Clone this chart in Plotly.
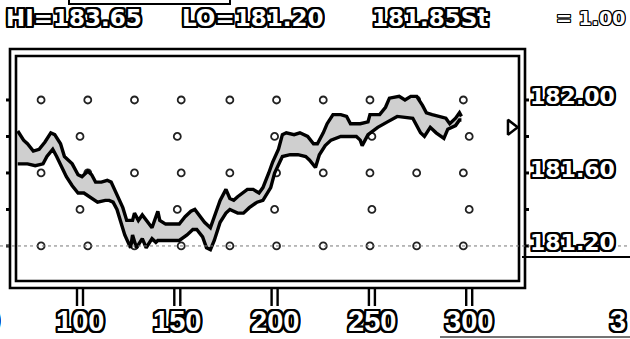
import plotly.graph_objects as go

# ---------------- data ----------------
# upper envelope of the price band (bar number, price)
upper_x = [68, 71, 73, 76, 79, 82, 85, 87, 90, 92,
           96, 99, 101, 104, 106, 108, 111, 114, 116, 119,
           122, 124, 127, 128, 130, 132, 134, 137, 140, 141,
           144, 151, 154, 157, 159, 162, 164, 167, 169, 172,
           175, 177, 179, 181, 186, 189, 192, 194, 197, 199,
           202, 204, 206, 210, 213, 217, 220, 222, 225, 227,
           230, 234, 237, 239, 244, 248, 249, 254, 257, 259,
           264, 267, 270, 273, 276, 278, 281, 285, 288, 290,
           293, 295, 296]
upper_y = [181.83, 181.78, 181.76, 181.72, 181.73, 181.77, 181.82, 181.81, 181.76, 181.69,
           181.65, 181.59, 181.58, 181.61, 181.59, 181.55, 181.55, 181.56, 181.55, 181.48,
           181.41, 181.34, 181.34, 181.38, 181.34, 181.37, 181.34, 181.30, 181.39, 181.34,
           181.32, 181.32, 181.36, 181.39, 181.40, 181.36, 181.33, 181.30, 181.36, 181.45,
           181.51, 181.46, 181.45, 181.47, 181.51, 181.51, 181.49, 181.52, 181.60, 181.66,
           181.73, 181.81, 181.82, 181.81, 181.82, 181.80, 181.76, 181.76, 181.82, 181.87,
           181.92, 181.92, 181.91, 181.87, 181.87, 181.88, 181.92, 181.92, 181.96, 182.01,
           182.02, 182.00, 182.02, 182.02, 181.97, 181.93, 181.92, 181.91, 181.90, 181.87,
           181.90, 181.93, 181.91]

# lower envelope of the price band
lower_x = [68, 73, 77, 81, 83, 86, 88, 91, 93, 96,
           99, 102, 105, 109, 113, 115, 117, 119, 121, 123,
           126, 127, 129, 132, 134, 137, 139, 140, 151, 155,
           158, 160, 163, 165, 167, 169, 172, 175, 177, 181,
           184, 187, 191, 194, 198, 200, 204, 208, 212, 216,
           218, 221, 223, 226, 229, 234, 239, 242, 244, 245,
           248, 253, 258, 263, 271, 275, 277, 280, 283, 287,
           289, 293, 295, 296]
lower_y = [181.65, 181.65, 181.64, 181.65, 181.69, 181.73, 181.69, 181.62, 181.58, 181.53,
           181.49, 181.49, 181.47, 181.44, 181.45, 181.45, 181.44, 181.40, 181.33, 181.26,
           181.19, 181.26, 181.19, 181.24, 181.19, 181.24, 181.22, 181.23, 181.23, 181.26,
           181.29, 181.29, 181.25, 181.19, 181.18, 181.23, 181.33, 181.38, 181.40, 181.38,
           181.38, 181.41, 181.44, 181.45, 181.52, 181.60, 181.69, 181.70, 181.70, 181.69,
           181.67, 181.63, 181.70, 181.75, 181.78, 181.80, 181.80, 181.80, 181.78, 181.75,
           181.81, 181.85, 181.88, 181.91, 181.90, 181.82, 181.80, 181.85, 181.82, 181.79,
           181.84, 181.86, 181.89, 181.89]

x_ticks = [50, 100, 150, 200, 250, 300]
x_tick_text = ["50", "100", "150", "200", "250", "300"]
y_ticks = [181.20, 181.60, 182.00]
y_tick_text = ["181.20", "181.60", "182.00"]
y_marks = [181.20, 181.40, 181.60, 181.80, 182.00]

# dotted reference grid
dot_cols_fine = [80, 104, 128, 152, 177, 201, 225, 249, 273, 297]
dot_rows_fine = [181.20, 181.60, 182.00]
dot_cols_coarse = [100, 150, 200, 250, 300]
dot_rows_coarse = [181.40, 181.80]

session_high = "183.65"
session_low = "181.20"
last_price = 181.85
scale_text = "1.00"

# ---------------- geometry ----------------
W, H = 630, 339
L, T, R, B = 16, 56, 519, 281          # plot area, pixels
X_RANGE = [67.11, 325.59]
Y_RANGE = [181.008, 182.241]


def fx(p):
    return (p - L) / (R - L)


def fy(p):
    return (B - p) / (B - T)


def xdata_to_paper(v):
    return (v - X_RANGE[0]) / (X_RANGE[1] - X_RANGE[0])


def outline(w):
    return ", ".join(f"{dx}px {dy}px 0 #000"
                     for dx in range(-w, w + 1) for dy in range(-w, w + 1)
                     if (dx, dy) != (0, 0))


BOLD = "DejaVu Sans, Verdana, sans-serif"
TALL = "Liberation Sans, Arial, sans-serif"

fig = go.Figure()

# grid dots
gx, gy = [], []
for r in dot_rows_fine:
    for c in dot_cols_fine:
        gx.append(c)
        gy.append(r)
for r in dot_rows_coarse:
    for c in dot_cols_coarse:
        gx.append(c)
        gy.append(r)
fig.add_trace(go.Scatter(x=gx, y=gy, mode="markers", hoverinfo="skip",
                         marker=dict(symbol="circle-open", size=7, color="#222",
                                     line=dict(width=1.8, color="#222"))))

# band fill
fig.add_trace(go.Scatter(x=upper_x + lower_x[::-1], y=upper_y + lower_y[::-1],
                         mode="none", fill="toself", fillcolor="#cfcfcf",
                         hoverinfo="skip"))
# envelopes
for xs, ys in ((upper_x, upper_y), (lower_x, lower_y)):
    fig.add_trace(go.Scatter(x=xs, y=ys, mode="lines",
                             line=dict(color="black", width=3.4)))

# last-price pointer on the right edge
fig.add_trace(go.Scatter(x=[X_RANGE[1] - 4], y=[last_price], mode="markers",
                         cliponaxis=False,
                         marker=dict(symbol="triangle-right", size=13, color="white",
                                     line=dict(width=2.5, color="black"))))

shapes = []
# double frame
shapes.append(dict(type="rect", xref="paper", yref="paper",
                   x0=fx(10), x1=fx(525), y0=fy(288), y1=fy(49),
                   line=dict(color="black", width=2.6)))
shapes.append(dict(type="rect", xref="paper", yref="paper",
                   x0=0, x1=1, y0=0, y1=1,
                   line=dict(color="black", width=2.6)))
# tick stems below the frame
for t in x_ticks[1:]:
    for off in (-3, 3):
        shapes.append(dict(type="line", xref="x", yref="paper",
                           xsizemode="pixel", xanchor=t, x0=off, x1=off,
                           y0=fy(288), y1=fy(306),
                           line=dict(color="black", width=2.4)))
# small notches on the frame sides
for v in y_marks:
    shapes.append(dict(type="line", xref="paper", yref="y",
                       x0=fx(525), x1=fx(529), y0=v, y1=v,
                       line=dict(color="black", width=3)))
    shapes.append(dict(type="line", xref="paper", yref="y",
                       x0=fx(10), x1=fx(6), y0=v, y1=v,
                       line=dict(color="black", width=3)))
# dotted floor line
shapes.append(dict(type="line", xref="paper", yref="y",
                   x0=fx(0), x1=fx(630), y0=y_ticks[0], y1=y_ticks[0],
                   line=dict(color="#777", width=1, dash="dot")))
# underline under lowest label
shapes.append(dict(type="line", xref="paper", yref="paper",
                   x0=fx(522), x1=fx(630), y0=fy(257), y1=fy(257),
                   line=dict(color="black", width=2)))
# bottom rule
shapes.append(dict(type="line", xref="paper", yref="paper",
                   x0=fx(440), x1=fx(630), y0=fy(337), y1=fy(337),
                   line=dict(color="#444", width=1.5)))
# bracket at top
shapes.append(dict(type="path", xref="paper", yref="paper",
                   path=f"M {fx(69)},{fy(-2)} L {fx(69)},{fy(4)} L {fx(230)},{fy(4)} L {fx(230)},{fy(-2)}",
                   line=dict(color="black", width=2)))

ann = []
big = dict(family=BOLD, size=22, color="white", weight="bold", shadow=outline(2))
tall = dict(family=TALL, size=29, color="white", weight="bold", shadow=outline(2))
# x labels (placed on the x scale via paper fraction so off-range ones still draw)
for t, s in zip(x_ticks, x_tick_text):
    ann.append(dict(x=xdata_to_paper(t), y=fy(321), xref="paper", yref="paper", text=s,
                    showarrow=False, xanchor="center", yanchor="middle", font=tall))
ann.append(dict(x=fx(628), y=fy(321), xref="paper", yref="paper", text="3", showarrow=False,
                xanchor="right", yanchor="middle", font=tall))
# y labels
for v, s in zip(y_ticks, y_tick_text):
    ann.append(dict(x=fx(528), y=v, xref="paper", yref="y", text=s, showarrow=False,
                    xanchor="left", yanchor="middle", yshift=3, font=big))
# header
head = dict(family=BOLD, size=23, color="white", weight="bold", shadow=outline(2))
ann.append(dict(x=fx(4), y=fy(18), xref="paper", yref="paper", text=f"HI={session_high}",
                showarrow=False, xanchor="left", yanchor="middle", font=head))
ann.append(dict(x=fx(180), y=fy(18), xref="paper", yref="paper", text=f"LO={session_low}",
                showarrow=False, xanchor="left", yanchor="middle", font=head))
ann.append(dict(x=fx(370), y=fy(18), xref="paper", yref="paper", text=f"{last_price:.2f}St",
                showarrow=False, xanchor="left", yanchor="middle", font=head))
ann.append(dict(x=fx(627), y=fy(18), xref="paper", yref="paper", text=f"= {scale_text}",
                showarrow=False, xanchor="right", yanchor="middle",
                font=dict(family=BOLD, size=19, color="white", weight="bold", shadow=outline(1))))

fig.update_layout(
    width=W, height=H,
    margin=dict(l=L, r=W - R, t=T, b=H - B, pad=0),
    paper_bgcolor="white", plot_bgcolor="white",
    showlegend=False,
    xaxis=dict(range=X_RANGE, showgrid=False, zeroline=False, showticklabels=False,
               showline=False, ticks=""),
    yaxis=dict(range=Y_RANGE, showgrid=False, zeroline=False, showticklabels=False,
               showline=False, ticks=""),
    shapes=shapes, annotations=ann,
)

fig.write_html("out.html")
